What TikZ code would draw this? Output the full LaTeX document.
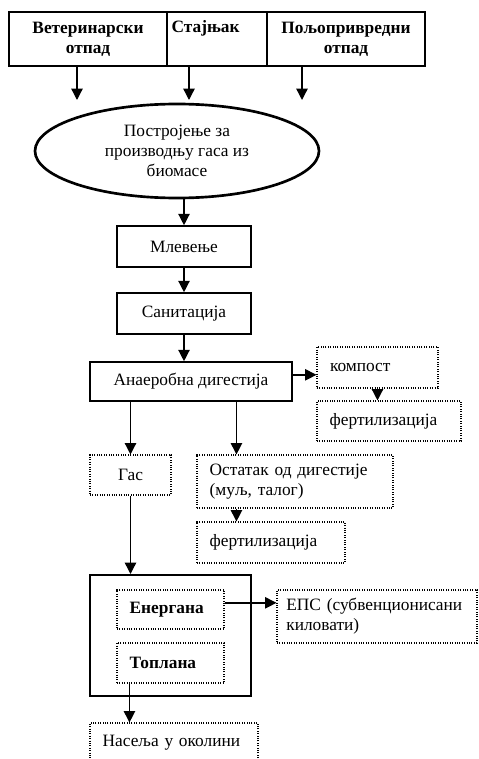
\documentclass[tikz,border=0pt]{standalone}
\usepackage{fontspec}
\setmainfont{Liberation Serif}
\usetikzlibrary{arrows.meta,shapes.geometric,calc}

\newcommand{\flowfont}{\fontsize{13}{15}\selectfont}

\begin{document}
\begin{tikzpicture}[x=0.75pt,y=-0.75pt,
            every node/.style = {font=\flowfont, inner sep=0pt},
            cell/.style = {draw, line width=1.5pt, minimum height=40.5pt,
                           align=center, font=\flowfont\bfseries},
            solidbox/.style = {draw, line width=1.2pt, align=center},
            dotbox/.style = {draw, densely dotted, line width=0.8pt,
                             inner xsep=9.5pt, align=left},
            arr/.style = {-{Triangle[length=8.5pt,width=8.5pt]}, line width=1pt}]
\useasboundingbox (0,0) rectangle (478,759);

% sources
\node[cell, minimum width=118.5pt] (vet) at (88,39) {Ветеринарски\\отпад};
\node[cell, minimum width=75pt, inner xsep=3.5pt, text width=68pt, align=left] (staj) at (217,39) {Стајњак\\\strut};
\node[cell, minimum width=118.5pt] (polj) at (346,39) {Пољопривредни\\отпад};
\coordinate (in1) at (77,100);
\coordinate (in2) at (189,100);
\coordinate (in3) at (302,100);
\draw[arr] (vet.south -| in1) -- (in1);
\draw[arr] (staj.south -| in2) -- (in2);
\draw[arr] (polj.south -| in3) -- (in3);

% plant
\node[ellipse, draw, line width=2pt, minimum width=213pt, minimum height=70.5pt, align=center] (plant) at (177,151)
      {Постројење за\\производњу гаса из\\биомасе};
\node[solidbox, minimum width=100.5pt, minimum height=30.75pt] (mlev) at (184,246.5) {Млевење};
\node[solidbox, minimum width=100.5pt, minimum height=30.75pt] (sanit) at (184,313.5) {Санитација};
\node[solidbox, minimum width=151.5pt, minimum height=29.25pt] (anaer) at (191,381.5) {Анаеробна дигестија};
\draw[arr] (plant.south -| mlev.north) -- (mlev.north);
\draw[arr] (mlev) -- (sanit);
\draw[arr] (sanit.south) -- (sanit.south |- anaer.north);

% compost
\node[dotbox, minimum width=90.75pt, text width=71.25pt, minimum height=30.75pt] (komp) at (377.5,367.5) {компост};
\node[dotbox, minimum width=108pt, text width=89pt, minimum height=30pt] (fert1) at (389,421) {фертилизација};
\coordinate (ak) at ([yshift=5pt]anaer.east);
\draw[arr] (ak) -- (ak -| komp.west);
\draw[arr] (komp.south) -- (komp.south |- fert1.north);

% gas and residue
\node[dotbox, minimum width=60.75pt, minimum height=30pt, inner xsep=0pt, align=center] (gas) at (130.5,475) {Гас};
\node[dotbox, minimum width=147pt, text width=128pt, minimum height=39.75pt] (ost) at (295,481.5) {Остатак од дигестије\\(муљ, талог)};
\node[dotbox, minimum width=111pt, text width=92pt, minimum height=30.75pt] (fert2) at (271,542.5) {фертилизација};
\coordinate (ostin) at ($(ost.north west)+(40,0)$);
\draw[arr] (gas.north |- anaer.south) -- (gas.north);
\draw[arr] (ostin |- anaer.south) -- (ostin);
\draw[arr] (ostin |- ost.south) -- (ostin |- fert2.north);

% plants
\node[draw, line width=1.5pt, minimum width=120.75pt, minimum height=90.75pt] (plants) at (170.5,635.5) {};
\node[dotbox, minimum width=80.25pt, text width=61.25pt, minimum height=29.25pt, font=\flowfont\bfseries] (energ) at (170.5,609.5) {Енергана};
\node[dotbox, minimum width=80.25pt, text width=61.25pt, minimum height=30pt, font=\flowfont\bfseries] (topl) at (170.5,663) {Топлана};
\node[dotbox, minimum width=150pt, inner xsep=7pt, text width=136pt, minimum height=39.75pt] (eps) at (377,616.5) {ЕПС (субвенционисани\\киловати)};
\node[dotbox, minimum width=126pt, text width=107pt, minimum height=30pt] (nas) at (174,743) {Насеља у околини};
\draw[arr] (gas.south) -- (gas.south |- plants.north);
\coordinate (ee) at ([yshift=5pt]energ.east);
\draw[arr] (ee) -- (ee -| eps.west);
\coordinate (tn) at ($(topl.south west)+(13,0)$);
\draw[arr] (tn) -- (tn |- nas.north);
\end{tikzpicture}
\end{document}
